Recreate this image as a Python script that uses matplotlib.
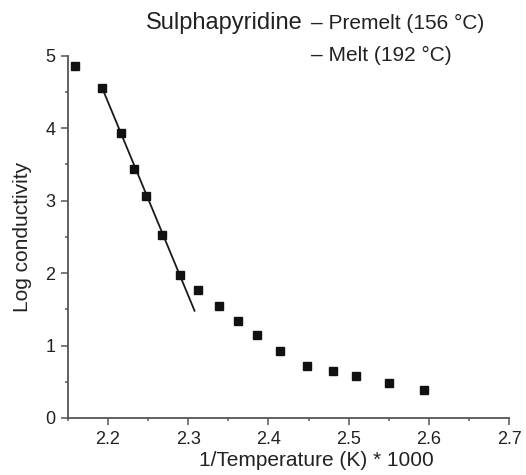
import numpy as np
import matplotlib.pyplot as plt
from matplotlib.ticker import MultipleLocator

plt.rcParams['font.family'] = ['Liberation Sans', 'DejaVu Sans']

# Data
inv_temp = [2.159, 2.1925, 2.216, 2.233, 2.248, 2.268, 2.290, 2.312, 2.339,
            2.362, 2.386, 2.415, 2.448, 2.481, 2.509, 2.550, 2.594]
log_cond = [4.86, 4.56, 3.93, 3.44, 3.06, 2.53, 1.98, 1.76, 1.54,
            1.34, 1.15, 0.92, 0.72, 0.65, 0.58, 0.48, 0.38]

# straight fit through the melt region
fit_x = [2.192, 2.308]
fit_y = [4.58, 1.48]

x_ticks = [2.2, 2.3, 2.4, 2.5, 2.6, 2.7]
y_ticks = [0, 1, 2, 3, 4, 5]

fig = plt.figure(figsize=(5.26, 4.75), dpi=100)
ax = fig.add_axes([0.1287, 0.12, 0.8395, 0.7627])

ax.plot(fit_x, fit_y, color='#1a1a1a', lw=1.3)
ax.plot(inv_temp, log_cond, 's', color='#111111', ms=5.5, mec='#111111')

ax.set_xlim(2.15, 2.7)
ax.set_ylim(0, 5)
ax.set_xticks(x_ticks)
ax.set_yticks(y_ticks)
ax.set_xticklabels([f'{v:.1f}' for v in x_ticks])
ax.xaxis.set_minor_locator(MultipleLocator(0.05))
ax.yaxis.set_minor_locator(MultipleLocator(0.5))

for s in ['top', 'right']:
    ax.spines[s].set_visible(False)
for s in ['left', 'bottom']:
    ax.spines[s].set_color('#555555')
    ax.spines[s].set_linewidth(1.3)

ax.tick_params(which='major', direction='out', length=5, width=1.1,
               color='#555555', labelsize=13, labelcolor='#222222', pad=4)
ax.tick_params(which='minor', direction='out', length=2.5, width=1.1,
               color='#555555')

ax.set_xlabel('1/Temperature (K) * 1000', fontsize=15, color='#222222')
ax.xaxis.set_label_coords(0.564, -0.09)
ax.set_ylabel('Log conductivity', fontsize=15, color='#222222')
ax.yaxis.set_label_coords(-0.08, 0.5)

fig.text(146 / 526, 1 - 29 / 475, 'Sulphapyridine', fontsize=17,
         color='#222222', ha='left', va='baseline')
fig.text(311 / 526, 1 - 29 / 475, '– Premelt (156 °C)', fontsize=15,
         color='#222222', ha='left', va='baseline')
fig.text(311 / 526, 1 - 61 / 475, '– Melt (192 °C)', fontsize=15,
         color='#222222', ha='left', va='baseline')

fig.savefig('out.png', dpi=100)
